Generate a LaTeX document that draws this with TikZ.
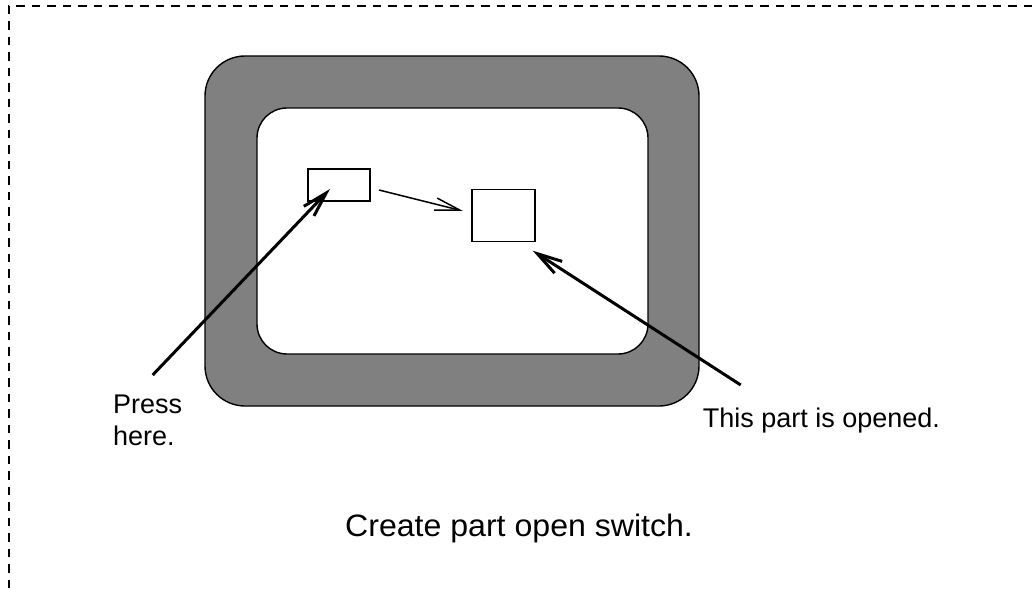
\documentclass[tikz,border=0pt]{standalone}
\usepackage{fontspec}
\setmainfont{Liberation Sans}
\usetikzlibrary{arrows.meta}
\definecolor{panelgray}{HTML}{808080}
\tikzset{
  frameline/.style={line width=2.2pt, dash pattern=on 8.5pt off 7pt},
  panel/.style={draw=black, line width=1.4pt},
  smallbox/.style={draw=black, line width=1.3pt, inner sep=0pt, fill=white},
  thinarrow/.style={line width=1.5pt, -{Straight Barb[length=25pt,width=12.5pt,line width=1.5pt]}},
  thickarrow/.style={line width=3pt, -{Straight Barb[length=25pt,width=14pt,line width=3pt]}},
  labeltext/.style={inner sep=0pt, font=\fontsize{27}{32}\selectfont},
  captiontext/.style={inner sep=0pt, font=\fontsize{31}{37}\selectfont}
}
\begin{document}
\begin{tikzpicture}[x=1pt,y=-1pt]
  \useasboundingbox (0,0) rectangle (1032,593);
  % dashed frame (top and left only)
  \coordinate (fTR) at (1032,6);
  \coordinate (fTL) at (9,6);
  \coordinate (fBL) at (9,593);
  \draw[frameline] (fTR) -- (fTL) -- (fBL);
  % panel
  \draw[panel, fill=panelgray, rounded corners=40pt] (205,56) rectangle (699,406);
  \draw[panel, fill=white, rounded corners=30pt] (257,108) rectangle (648,354);
  % small boxes
  \node[smallbox, minimum width=62pt, minimum height=32pt] (box1) at (339,185) {};
  \node[smallbox, minimum width=63pt, minimum height=52pt] (box2) at (503.5,215.7) {};
  % labels
  \node[labeltext, anchor=base west, align=left] (press) at (113,445) {Press\\here.};
  \node[labeltext, anchor=base west] (opened) at (702.7,427) {This part is opened.};
  \node[captiontext, anchor=base west] (caption) at (345,536) {\scalebox{1.035}[1]{Create part open switch.}};
  % connector coordinates
  \coordinate (a0) at (379,190);
  \coordinate (a1) at (463,211);
  \coordinate (p0) at (152.7,375);
  \coordinate (p1) at (330,189);
  \coordinate (q0) at (740.7,385);
  \coordinate (q1) at (532.7,250.7);
  % connectors
  \draw[thinarrow] (a0) -- (a1);
  \draw[thickarrow] (p0) -- (p1);
  \draw[thickarrow] (q0) -- (q1);
\end{tikzpicture}
\end{document}
